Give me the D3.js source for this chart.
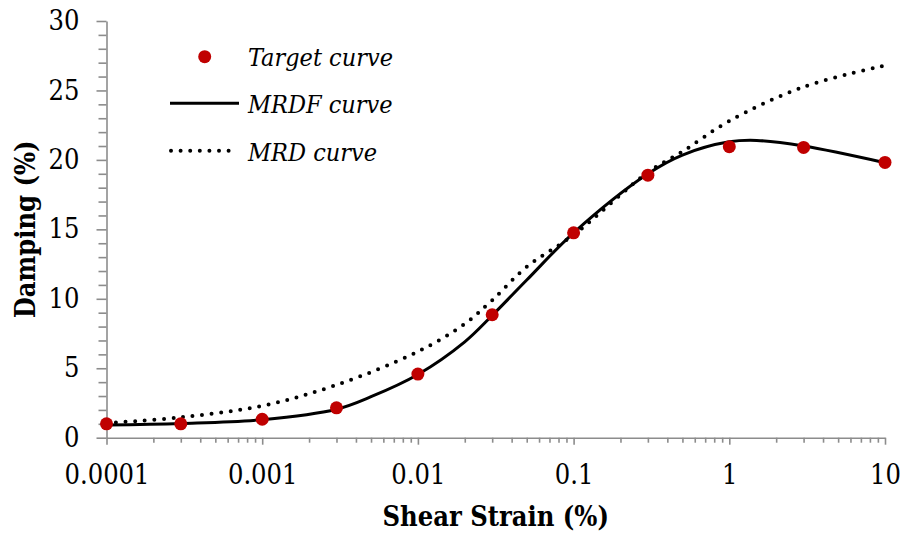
<!DOCTYPE html>
<html>
<head>
<meta charset="utf-8">
<script src="https://cdn.jsdelivr.net/npm/d3@7"></script>
<style>
  body { margin: 0; background: #fff; }
  svg text { font-family: "DejaVu Serif", "Liberation Serif", serif; font-stretch: condensed; }
</style>
</head>
<body>
<svg width="904" height="536"></svg>
<script>
// strain values (%) of the target points
let strain = [0.0001, 0.0003, 0.001, 0.003, 0.01, 0.03, 0.1, 0.3, 1, 3, 10];
let target = [1.0, 1.0, 1.33, 2.15, 4.58, 8.85, 14.75, 18.9, 20.95, 20.9, 19.82];

// MRDF fitted curve
let mrdfStrain = [0.0001, 0.0003, 0.001, 0.003, 0.005, 0.01, 0.02, 0.03, 0.05, 0.1, 0.3, 0.5, 1, 1.5, 3, 10];
let mrdfDamp = [0.92, 1.03, 1.3, 2.05, 2.95, 4.55, 6.9, 8.8, 11.35, 14.75, 19.0, 20.35, 21.3, 21.4, 21.0, 19.8];

// MRD curve
let mrdStrain = [0.0001, 0.0003, 0.001, 0.003, 0.01, 0.02, 0.03, 0.05, 0.1, 0.3, 0.5, 1, 3, 10];
let mrdDamp = [1.05, 1.47, 2.3, 3.8, 6.2, 8.2, 9.9, 12.3, 14.6, 19.1, 20.6, 22.8, 25.25, 26.8];

let xTicks = [0.0001, 0.001, 0.01, 0.1, 1, 10];
let xTickLabels = ["0.0001", "0.001", "0.01", "0.1", "1", "10"];
let yTicks = [0, 5, 10, 15, 20, 25, 30];

let margin = { left: 106.5, right: 19, top: 21, bottom: 98.3 };
let width = 904, height = 536;

let svg = d3.select("svg");
let axisColor = "#8c8c8c";

let x = d3.scaleLog().domain([0.0001, 10]).range([margin.left, width - margin.right]);
let y = d3.scaleLinear().domain([0, 30]).range([height - margin.bottom, margin.top]);

// minor ticks
let xMinor = [];
for (let e = -4; e < 1; e++) {
  for (let m = 2; m <= 9; m++) xMinor.push(m * Math.pow(10, e));
}
let yMinor = d3.range(0, 31, 1).filter((v) => v % 5 != 0);

// x axis
let gx = svg.append("g").attr("transform", "translate(0," + y(0) + ")");
gx.call(d3.axisBottom(x).tickValues(xMinor).tickSize(5).tickFormat(""));
gx.call((g) => g.select(".domain").remove());
let gx2 = svg.append("g").attr("transform", "translate(0," + y(0) + ")");
gx2.call(
  d3.axisBottom(x).tickValues(xTicks).tickSize(7).tickSizeOuter(0).tickPadding(34)
    .tickFormat((d, i) => xTickLabels[i])
);

// y axis
let gy = svg.append("g").attr("transform", "translate(" + x(0.0001) + ",0)");
gy.call(d3.axisLeft(y).tickValues(yMinor).tickSize(8).tickFormat(""));
gy.call((g) => g.select(".domain").remove());
let gy2 = svg.append("g").attr("transform", "translate(" + x(0.0001) + ",0)");
gy2.call(d3.axisLeft(y).tickValues(yTicks).tickSize(10).tickSizeOuter(0).tickPadding(17));

svg.selectAll("g").attr("font-family", null).attr("font-size", null);
svg.selectAll(".domain, .tick line").attr("stroke", axisColor).attr("stroke-width", 1.6);
svg.selectAll(".tick text").style("font-size", "27px").attr("fill", "#000");
gx2.selectAll(".tick text").attr("dy", "0.2em");

// axis titles
svg.append("text")
  .attr("x", (x.range()[0] + x.range()[1]) / 2)
  .attr("y", 526)
  .attr("text-anchor", "middle")
  .style("font-weight", "bold")
  .style("font-size", "27px")
  .text("Shear Strain (%)");

svg.append("text")
  .attr("transform", "translate(35," + (y(0) + y(30)) / 2 + ") rotate(-90)")
  .attr("text-anchor", "middle")
  .style("font-weight", "bold")
  .style("font-size", "27px")
  .text("Damping (%)");

// curves
let line = d3.line()
  .x((d) => x(d[0]))
  .y((d) => y(d[1]))
  .curve(d3.curveCatmullRom.alpha(0.5));

svg.append("path")
  .datum(mrdStrain.map((s, i) => [s, mrdDamp[i]]))
  .attr("d", line)
  .attr("fill", "none")
  .attr("stroke", "#000")
  .attr("stroke-width", 4)
  .attr("stroke-linecap", "round")
  .attr("stroke-dasharray", "0 9.6");

svg.append("path")
  .datum(mrdfStrain.map((s, i) => [s, mrdfDamp[i]]))
  .attr("d", line)
  .attr("fill", "none")
  .attr("stroke", "#000")
  .attr("stroke-width", 3);

// target points
svg.append("g")
  .selectAll("circle")
  .data(strain)
  .enter()
  .append("circle")
  .attr("cx", (d) => x(d))
  .attr("cy", (d, i) => y(target[i]))
  .attr("r", 6.5)
  .attr("fill", "#c00000");

// legend
let legend = svg.append("g");
legend.append("circle").attr("cx", 204.7).attr("cy", 56.7).attr("r", 6.5).attr("fill", "#c00000");
legend.append("line").attr("x1", 170).attr("x2", 239).attr("y1", 103.3).attr("y2", 103.3)
  .attr("stroke", "#000").attr("stroke-width", 3);
legend.append("line").attr("x1", 171).attr("x2", 235).attr("y1", 150.7).attr("y2", 150.7)
  .attr("stroke", "#000").attr("stroke-width", 4).attr("stroke-linecap", "round")
  .attr("stroke-dasharray", "0 9.6");

let legendLabels = ["Target curve", "MRDF curve", "MRD curve"];
legend.selectAll("text")
  .data(legendLabels)
  .enter()
  .append("text")
  .attr("x", 248)
  .attr("y", (d, i) => 65.5 + i * 47.5)
  .style("font-style", "italic")
  .style("font-size", "25px")
  .text((d) => d);
</script>
</body>
</html>
